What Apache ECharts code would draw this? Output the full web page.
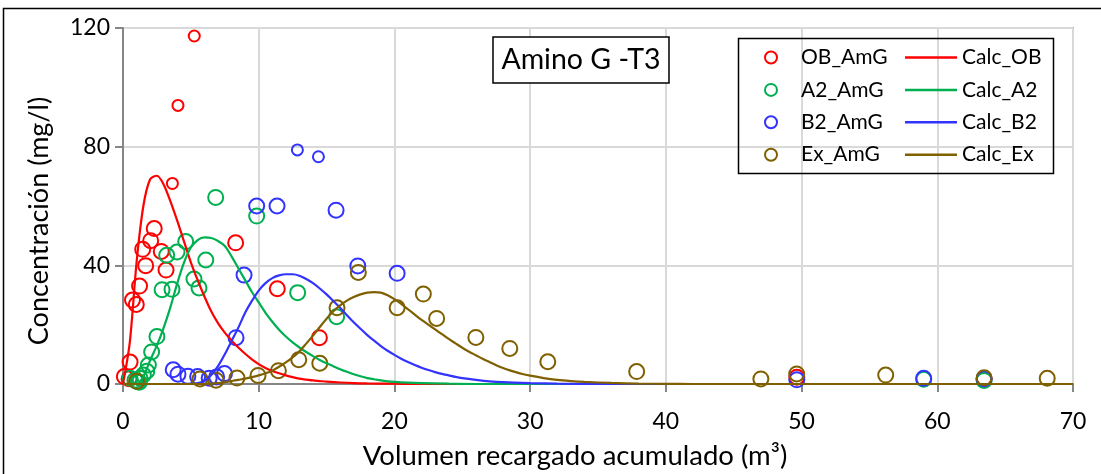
<!DOCTYPE html>
<html><head><meta charset="utf-8">
<script src="https://cdn.jsdelivr.net/npm/echarts/dist/echarts.min.js"></script>
<style>html,body{margin:0;padding:0;background:#fff}#c{width:1101px;height:474px}</style>
</head><body><div id="c"></div>
<script>
// ---- data ----
const xTicks = [0, 10, 20, 30, 40, 50, 60, 70];
const yTicks = [0, 40, 80, 120];
const obAmG = [[0.1,2.5],[0.45,1.8],[0.52,7.4],[0.7,28.3],[0.98,26.8],[1.22,33.0],[1.45,45.4],[1.67,39.9],[2.04,48.3],[2.3,52.4],[2.82,44.7],[3.17,38.4],[8.3,47.6],[11.37,32.1],[14.47,15.6],[49.65,2.3],[63.45,1.8]];
const obAmGSmall = [[3.64,67.6],[4.05,93.9],[5.25,117.3]];
const a2AmG = [[0.52,1.9],[0.88,1.3],[1.1,0.8],[1.2,0.6],[1.25,1.9],[1.5,3.0],[1.75,4.3],[1.87,6.4],[2.11,10.8],[2.5,16.0],[2.88,31.8],[3.22,43.4],[3.61,31.9],[3.98,44.5],[4.62,48],[5.23,35.4],[5.6,32.4],[6.1,41.8],[6.83,62.9],[9.85,56.6],[12.87,30.8],[15.74,22.7],[59,1.6],[63.45,1.2]];
const b2AmG = [[3.7,4.8],[4.05,3.3],[4.78,2.6],[5.5,2.5],[6.35,1.9],[6.9,2.4],[7.48,3.5],[8.33,15.6],[8.92,36.7],[9.85,60],[11.35,60],[15.7,58.6],[17.3,39.8],[20.2,37.3],[49.65,1.4],[59,1.9],[63.45,1.8]];
const b2AmGSmall = [[12.85,78.9],[14.4,76.6]];
const exAmG = [[1.0,0.9],[5.67,1.7],[6.85,1.3],[8.4,2.0],[9.95,2.9],[11.45,4.5],[12.95,8.2],[14.5,7.0],[15.77,25.7],[17.34,37.6],[20.2,25.7],[22.13,30.3],[23.11,22.1],[26.0,15.7],[28.5,12.0],[31.3,7.5],[37.85,4.2],[47.0,1.7],[49.64,3.4],[56.2,3.0],[63.45,2.1],[68.1,1.9]];
const calcOB = [[0,0],[0.5,14],[1,41],[1.5,60],[2,69],[2.5,70.2],[3,67.2],[3.5,61.5],[4,55],[4.5,48],[5,41],[5.5,35],[6,29.5],[6.5,24.5],[7,20.5],[7.5,17.3],[8,14.7],[8.5,12.3],[9,10.2],[9.5,8.3],[10,6.7],[10.5,5.4],[11,4.4],[11.5,3.6],[12,2.9],[12.5,2.3],[13,1.8],[13.5,1.5],[14,1.2],[14.5,1.0],[15,0.8],[16,0.5],[17,0.3],[18,0.2],[20,0.1],[22,0],[70,0]];
const calcA2 = [[0,0],[0.5,0],[1,0],[1.5,2.5],[2,8],[2.5,13],[3,19],[3.5,26],[4,34],[4.5,41],[5,46],[5.5,48.5],[6,49.4],[6.5,49.2],[7,48.2],[7.5,46.5],[8,43],[8.5,39],[9,35],[9.5,31],[10,27.5],[10.5,24],[11,21],[11.5,18.3],[12,16],[12.5,14],[13,12.3],[13.5,10.8],[14,9.4],[14.5,8.1],[15,7],[15.5,6],[16,5],[16.5,4.1],[17,3.3],[17.5,2.6],[18,2],[18.5,1.6],[19,1.2],[19.5,0.9],[20,0.7],[21,0.45],[22,0.3],[24,0.1],[26,0],[70,0]];
const calcB2 = [[0,0],[4.5,0],[5,0],[5.5,0.3],[6,1],[6.5,3],[7,6],[7.5,10],[8,14.5],[8.5,19],[9,24],[9.5,28],[10,31.5],[10.5,34],[11,35.7],[11.5,36.6],[12,37],[12.5,37],[13,36.5],[13.5,35.4],[14,34],[14.5,32.2],[15,30.2],[15.5,28],[16,25.7],[16.5,23.2],[17,20.8],[17.5,18.6],[18,16.5],[18.5,14.6],[19,12.8],[19.5,11.2],[20,9.8],[20.5,8.5],[21,7.4],[21.5,6.4],[22,5.5],[22.5,4.7],[23,4],[23.5,3.4],[24,2.9],[24.5,2.4],[25,2],[26,1.4],[27,0.9],[28,0.6],[30,0.3],[32,0.1],[35,0],[70,0]];
const calcEx = [[0,0],[5.5,0],[6,0],[6.5,0.1],[7,0.3],[7.5,0.6],[8,1],[8.5,1.4],[9,1.8],[9.5,2.3],[10,2.9],[10.5,3.6],[11,4.5],[11.5,5.8],[12,7.3],[12.5,9],[13,11],[13.5,13.6],[14,16.3],[14.5,19.2],[15,22],[15.5,24.5],[16,26.5],[16.5,28.1],[17,29.3],[17.5,30.2],[18,30.8],[18.5,31],[19,30.8],[19.5,29.9],[20,28.6],[20.5,27],[21,25.2],[21.5,23.4],[22,21.6],[22.5,20],[23,18.4],[23.5,16.8],[24,15.2],[24.5,13.7],[25,12.2],[25.5,10.9],[26,9.7],[26.5,8.5],[27,7.4],[27.5,6.3],[28,5.4],[28.5,4.6],[29,3.9],[29.5,3.3],[30,2.8],[31,2],[32,1.4],[33,1],[34,0.7],[36,0.35],[38,0.15],[40,0.05],[42,0],[70,0]];
const scatterNames = ['OB_AmG', 'A2_AmG', 'B2_AmG', 'Ex_AmG'];
const lineNames = ['Calc_OB', 'Calc_A2', 'Calc_B2', 'Calc_Ex'];
const titleText = 'Amino G -T3';
const xName = 'Volumen recargado acumulado (m³)';
const yName = 'Concentración (mg/l)';

// ---- styles ----
const COLORS = ['#FF0000', '#00B050', '#3333FF', '#7F6000'];
const FONT = 'Lato';

function sc(name, data, color, size) {
  return { type: 'scatter', name, data, symbol: 'circle', symbolSize: size, silent: true, z: 2,
    itemStyle: { color: 'rgba(255,255,255,0)', borderColor: color, borderWidth: 2, opacity: 1 } };
}
function ln(name, data, color) {
  return { type: 'line', name, data, symbol: 'none', showSymbol: false, smooth: 0.3, silent: true, z: 3,
    lineStyle: { color, width: 2.2 }, itemStyle: { color } };
}

const chart = echarts.init(document.getElementById('c'), null, { renderer: 'canvas' });
chart.setOption({
  animation: false,
  backgroundColor: '#fff',
  textStyle: { fontFamily: FONT },
  grid: { left: 123, top: 28, right: 28, bottom: 90, show: true, borderColor: '#a6a6a6', borderWidth: 2,
    containLabel: false, outerBoundsMode: 'none' },
  xAxis: {
    type: 'value', min: xTicks[0], max: xTicks[xTicks.length - 1], interval: 10,
    name: xName, nameLocation: 'middle', nameGap: 58,
    nameTextStyle: { fontFamily: FONT, fontSize: 27.5, color: '#000', padding: [0, 46, 0, 0] },
    axisLine: { show: true, lineStyle: { color: '#868686', width: 2 } },
    axisTick: { show: true, length: 8, lineStyle: { color: '#868686', width: 2 } },
    axisLabel: { fontFamily: FONT, fontSize: 23, color: '#000', margin: 26 },
    splitLine: { show: true, lineStyle: { color: '#d9d9d9', width: 2 } }
  },
  yAxis: {
    type: 'value', min: yTicks[0], max: yTicks[yTicks.length - 1], interval: 40,
    name: yName, nameLocation: 'middle', nameGap: 70, nameRotate: 90,
    nameTextStyle: { fontFamily: FONT, fontSize: 27, color: '#000', padding: [0, 30, 0, 0] },
    axisLine: { show: true, lineStyle: { color: '#868686', width: 2 } },
    axisTick: { show: true, length: 8, lineStyle: { color: '#868686', width: 2 } },
    axisLabel: { fontFamily: FONT, fontSize: 23, color: '#000', margin: 13 },
    splitLine: { show: true, lineStyle: { color: '#d9d9d9', width: 2 } }
  },
  legend: [
    { data: scatterNames.map(n => ({ name: n, icon: 'circle' })), orient: 'vertical', left: 759, top: 42,
      itemWidth: 12, itemHeight: 12, itemGap: 11.4,
      textStyle: { fontFamily: FONT, fontSize: 21, color: '#000', lineHeight: 20, padding: [0, 0, 0, 19] } },
    { data: lineNames.map(n => ({ name: n, icon: 'rect' })), orient: 'vertical', left: 900, top: 42,
      itemWidth: 52, itemHeight: 2.5, itemGap: 11.4,
      textStyle: { fontFamily: FONT, fontSize: 21, color: '#000', lineHeight: 20 } }
  ],
  graphic: [
    { type: 'rect', shape: { x: 3.5, y: 8.5, width: 1200, height: 600 }, style: { fill: 'none', stroke: '#000', lineWidth: 1.5 }, silent: true, z: 10 },
    { type: 'rect', shape: { x: 738.5, y: 38.5, width: 315, height: 135 }, style: { fill: 'none', stroke: '#000', lineWidth: 1.5 }, silent: true, z: 10 },
    { type: 'rect', shape: { x: 493, y: 37, width: 176, height: 46 }, style: { fill: '#fff', stroke: '#000', lineWidth: 1.5 }, silent: true, z: 10 },
    { type: 'text', x: 581, y: 60, style: { text: titleText, fontFamily: FONT, fontSize: 28.5, fill: '#000', align: 'center', verticalAlign: 'middle' }, silent: true, z: 11 }
  ],
  series: [
    sc(scatterNames[0], obAmG, COLORS[0], 15),
    sc(scatterNames[0], obAmGSmall, COLORS[0], 11),
    sc(scatterNames[1], a2AmG, COLORS[1], 15),
    sc(scatterNames[2], b2AmG, COLORS[2], 15),
    sc(scatterNames[2], b2AmGSmall, COLORS[2], 11),
    sc(scatterNames[3], exAmG, COLORS[3], 15),
    ln(lineNames[0], calcOB, COLORS[0]),
    ln(lineNames[1], calcA2, COLORS[1]),
    ln(lineNames[2], calcB2, COLORS[2]),
    ln(lineNames[3], calcEx, COLORS[3])
  ]
});
</script>
</body></html>
